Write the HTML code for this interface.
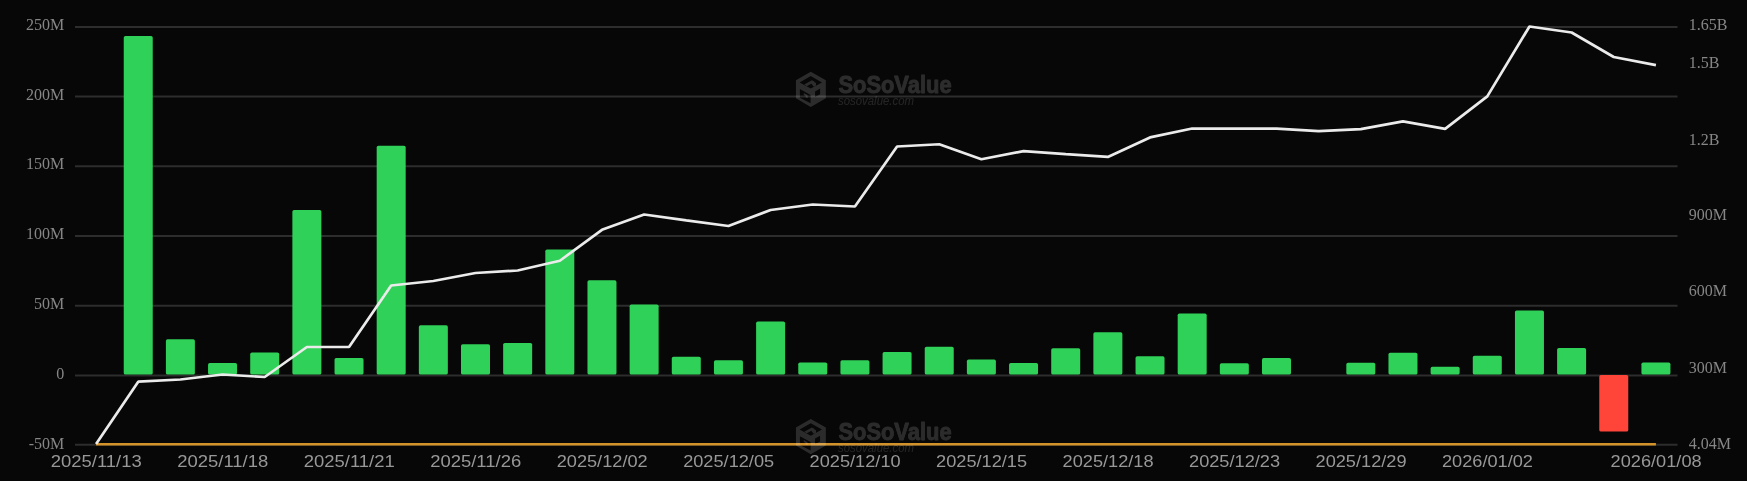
<!DOCTYPE html>
<html><head><meta charset="utf-8"><title>chart</title>
<style>html,body{margin:0;padding:0;background:#070707;}body{width:1747px;height:481px;overflow:hidden;}svg{display:block;}
.ys{font-family:"Liberation Serif",serif;font-size:16px;fill:#868686;}
.xs{font-family:"Liberation Sans",sans-serif;font-size:15.7px;fill:#989898;}
.wm1{font-family:"Liberation Sans",sans-serif;font-weight:bold;font-size:24.2px;}
.wm2{font-family:"Liberation Sans",sans-serif;font-style:italic;font-size:12px;}
</style></head><body>
<svg width="1747" height="481" viewBox="0 0 1747 481">
<rect width="1747" height="481" fill="#070707"/>
<line x1="75.0" x2="1677.5" y1="26.9" y2="26.9" stroke="#2d2d2d" stroke-width="2"/>
<line x1="75.0" x2="1677.5" y1="96.6" y2="96.6" stroke="#2d2d2d" stroke-width="2"/>
<line x1="75.0" x2="1677.5" y1="166.3" y2="166.3" stroke="#2d2d2d" stroke-width="2"/>
<line x1="75.0" x2="1677.5" y1="236.0" y2="236.0" stroke="#2d2d2d" stroke-width="2"/>
<line x1="75.0" x2="1677.5" y1="305.7" y2="305.7" stroke="#2d2d2d" stroke-width="2"/>
<line x1="75.0" x2="1677.5" y1="375.5" y2="375.5" stroke="#2d2d2d" stroke-width="2"/>
<line x1="75.0" x2="1677.5" y1="444.8" y2="444.8" stroke="#2d2d2d" stroke-width="2"/>
<rect x="123.74" y="36.0" width="29" height="338.60" rx="1.7" ry="1.7" fill="#30d158"/>
<rect x="165.89" y="339.25" width="29" height="35.35" rx="1.7" ry="1.7" fill="#30d158"/>
<rect x="208.05" y="363" width="29" height="11.60" rx="1.7" ry="1.7" fill="#30d158"/>
<rect x="250.21" y="352.5" width="29" height="22.10" rx="1.7" ry="1.7" fill="#30d158"/>
<rect x="292.37" y="210" width="29" height="164.60" rx="1.7" ry="1.7" fill="#30d158"/>
<rect x="334.53" y="358" width="29" height="16.60" rx="1.7" ry="1.7" fill="#30d158"/>
<rect x="376.68" y="145.75" width="29" height="228.85" rx="1.7" ry="1.7" fill="#30d158"/>
<rect x="418.84" y="325.2" width="29" height="49.40" rx="1.7" ry="1.7" fill="#30d158"/>
<rect x="461.00" y="344.2" width="29" height="30.40" rx="1.7" ry="1.7" fill="#30d158"/>
<rect x="503.16" y="342.9" width="29" height="31.70" rx="1.7" ry="1.7" fill="#30d158"/>
<rect x="545.32" y="249.6" width="29" height="125.00" rx="1.7" ry="1.7" fill="#30d158"/>
<rect x="587.47" y="280.3" width="29" height="94.30" rx="1.7" ry="1.7" fill="#30d158"/>
<rect x="629.63" y="304.5" width="29" height="70.10" rx="1.7" ry="1.7" fill="#30d158"/>
<rect x="671.79" y="356.75" width="29" height="17.85" rx="1.7" ry="1.7" fill="#30d158"/>
<rect x="713.95" y="360.25" width="29" height="14.35" rx="1.7" ry="1.7" fill="#30d158"/>
<rect x="756.11" y="321.5" width="29" height="53.10" rx="1.7" ry="1.7" fill="#30d158"/>
<rect x="798.26" y="362.5" width="29" height="12.10" rx="1.7" ry="1.7" fill="#30d158"/>
<rect x="840.42" y="360.25" width="29" height="14.35" rx="1.7" ry="1.7" fill="#30d158"/>
<rect x="882.58" y="352" width="29" height="22.60" rx="1.7" ry="1.7" fill="#30d158"/>
<rect x="924.74" y="346.75" width="29" height="27.85" rx="1.7" ry="1.7" fill="#30d158"/>
<rect x="966.89" y="359.5" width="29" height="15.10" rx="1.7" ry="1.7" fill="#30d158"/>
<rect x="1009.05" y="363" width="29" height="11.60" rx="1.7" ry="1.7" fill="#30d158"/>
<rect x="1051.21" y="348.25" width="29" height="26.35" rx="1.7" ry="1.7" fill="#30d158"/>
<rect x="1093.37" y="332.25" width="29" height="42.35" rx="1.7" ry="1.7" fill="#30d158"/>
<rect x="1135.53" y="356.25" width="29" height="18.35" rx="1.7" ry="1.7" fill="#30d158"/>
<rect x="1177.68" y="313.5" width="29" height="61.10" rx="1.7" ry="1.7" fill="#30d158"/>
<rect x="1219.84" y="363.25" width="29" height="11.35" rx="1.7" ry="1.7" fill="#30d158"/>
<rect x="1262.00" y="358" width="29" height="16.60" rx="1.7" ry="1.7" fill="#30d158"/>
<rect x="1346.32" y="362.75" width="29" height="11.85" rx="1.7" ry="1.7" fill="#30d158"/>
<rect x="1388.47" y="352.75" width="29" height="21.85" rx="1.7" ry="1.7" fill="#30d158"/>
<rect x="1430.63" y="366.75" width="29" height="7.85" rx="1.7" ry="1.7" fill="#30d158"/>
<rect x="1472.79" y="355.75" width="29" height="18.85" rx="1.7" ry="1.7" fill="#30d158"/>
<rect x="1514.95" y="310.4" width="29" height="64.20" rx="1.7" ry="1.7" fill="#30d158"/>
<rect x="1557.11" y="348" width="29" height="26.60" rx="1.7" ry="1.7" fill="#30d158"/>
<rect x="1641.42" y="362.5" width="29" height="12.10" rx="1.7" ry="1.7" fill="#30d158"/>
<rect x="1599.26" y="375" width="29" height="56.6" rx="1.7" ry="1.7" fill="#ff453a"/>
<line x1="96.08" x2="1655.92" y1="444.3" y2="444.3" stroke="#d4932a" stroke-width="2.6"/>
<polyline points="96.08,444.0 138.24,381.7 180.39,379.5 222.55,374.5 264.71,377 306.87,347 349.03,347 391.18,285.5 433.34,281 475.50,273 517.66,270.5 559.82,260.75 601.97,229.8 644.13,214.5 686.29,220.3 728.45,226 770.61,210 812.76,204.5 854.92,206.5 897.08,146.5 939.24,144.25 981.39,159.25 1023.55,151.15 1065.71,154.15 1107.87,156.9 1150.03,137.4 1192.18,128.5 1234.34,128.6 1276.50,128.6 1318.66,131.2 1360.82,129.2 1402.97,121.4 1445.13,128.9 1487.29,96.4 1529.45,26.5 1571.61,32.5 1613.76,57 1655.92,65.2" fill="none" stroke="#ebebeb" stroke-width="2.7" stroke-linejoin="bevel" stroke-linecap="butt"/>
<g style="will-change:transform" transform="translate(0,0)" fill="#ffffff" opacity="0.15">
<path fill-rule="evenodd" d="M810.78,71.76 L825.80,80.23 L825.80,98.31 L810.78,107.04 L795.93,98.31 L795.93,80.23Z M810.78,76.12 L821.96,82.41 L810.78,88.61 L799.60,82.41Z M799.86,88.96 L810.60,94.90 L810.60,103.37 L799.86,97.69Z M815.06,91.41 L820.12,88.61 L820.12,94.20 L815.06,97.00Z"/>
<path d="M810.52,82.67 L812.96,81.28 L816.02,83.02 L816.02,85.47 L813.83,86.69Z"/>
<path d="M804.23,84.59 L811.91,80.23 L814.53,81.71 L806.85,86.17Z"/>
<path d="M803.79,92.89 L807.55,94.99 L807.55,98.13 L805.71,97.17 L805.71,95.95 L803.79,94.90Z"/>
<text class="wm1" x="838.4" y="93.2" stroke="#ffffff" stroke-width="0.9" stroke-linejoin="round" textLength="113.2" lengthAdjust="spacingAndGlyphs">SoSoValue</text>
<text class="wm2" x="838" y="104.6" fill-opacity="0.8" textLength="76" lengthAdjust="spacingAndGlyphs">sosovalue.com</text>
</g>
<g style="will-change:transform" transform="translate(0,347.2)" fill="#ffffff" opacity="0.15">
<path fill-rule="evenodd" d="M810.78,71.76 L825.80,80.23 L825.80,98.31 L810.78,107.04 L795.93,98.31 L795.93,80.23Z M810.78,76.12 L821.96,82.41 L810.78,88.61 L799.60,82.41Z M799.86,88.96 L810.60,94.90 L810.60,103.37 L799.86,97.69Z M815.06,91.41 L820.12,88.61 L820.12,94.20 L815.06,97.00Z"/>
<path d="M810.52,82.67 L812.96,81.28 L816.02,83.02 L816.02,85.47 L813.83,86.69Z"/>
<path d="M804.23,84.59 L811.91,80.23 L814.53,81.71 L806.85,86.17Z"/>
<path d="M803.79,92.89 L807.55,94.99 L807.55,98.13 L805.71,97.17 L805.71,95.95 L803.79,94.90Z"/>
<text class="wm1" x="838.4" y="93.2" stroke="#ffffff" stroke-width="0.9" stroke-linejoin="round" textLength="113.2" lengthAdjust="spacingAndGlyphs">SoSoValue</text>
<text class="wm2" x="838" y="104.6" fill-opacity="0.8" textLength="76" lengthAdjust="spacingAndGlyphs">sosovalue.com</text>
</g>
<g style="will-change:transform">
<text class="ys" x="64.3" y="30.0" text-anchor="end">250M</text>
<text class="ys" x="64.3" y="99.7" text-anchor="end">200M</text>
<text class="ys" x="64.3" y="169.4" text-anchor="end">150M</text>
<text class="ys" x="64.3" y="239.1" text-anchor="end">100M</text>
<text class="ys" x="64.3" y="308.8" text-anchor="end">50M</text>
<text class="ys" x="64.3" y="378.6" text-anchor="end">0</text>
<text class="ys" x="64.3" y="448.9" text-anchor="end">-50M</text>
<text class="ys" x="1688.8" y="29.9">1.65B</text>
<text class="ys" x="1688.8" y="68.0">1.5B</text>
<text class="ys" x="1688.8" y="144.5">1.2B</text>
<text class="ys" x="1688.8" y="220.2">900M</text>
<text class="ys" x="1688.8" y="296.4">600M</text>
<text class="ys" x="1688.8" y="373.1">300M</text>
<text class="ys" x="1688.8" y="448.7">4.04M</text>
<text class="xs" x="50.78" y="466.8" textLength="91" lengthAdjust="spacingAndGlyphs">2025/11/13</text>
<text class="xs" x="177.25" y="466.8" textLength="91" lengthAdjust="spacingAndGlyphs">2025/11/18</text>
<text class="xs" x="303.73" y="466.8" textLength="91" lengthAdjust="spacingAndGlyphs">2025/11/21</text>
<text class="xs" x="430.20" y="466.8" textLength="91" lengthAdjust="spacingAndGlyphs">2025/11/26</text>
<text class="xs" x="556.67" y="466.8" textLength="91" lengthAdjust="spacingAndGlyphs">2025/12/02</text>
<text class="xs" x="683.15" y="466.8" textLength="91" lengthAdjust="spacingAndGlyphs">2025/12/05</text>
<text class="xs" x="809.62" y="466.8" textLength="91" lengthAdjust="spacingAndGlyphs">2025/12/10</text>
<text class="xs" x="936.09" y="466.8" textLength="91" lengthAdjust="spacingAndGlyphs">2025/12/15</text>
<text class="xs" x="1062.57" y="466.8" textLength="91" lengthAdjust="spacingAndGlyphs">2025/12/18</text>
<text class="xs" x="1189.04" y="466.8" textLength="91" lengthAdjust="spacingAndGlyphs">2025/12/23</text>
<text class="xs" x="1315.52" y="466.8" textLength="91" lengthAdjust="spacingAndGlyphs">2025/12/29</text>
<text class="xs" x="1441.99" y="466.8" textLength="91" lengthAdjust="spacingAndGlyphs">2026/01/02</text>
<text class="xs" x="1610.62" y="466.8" textLength="91" lengthAdjust="spacingAndGlyphs">2026/01/08</text>
</g>
</svg>
</body></html>
